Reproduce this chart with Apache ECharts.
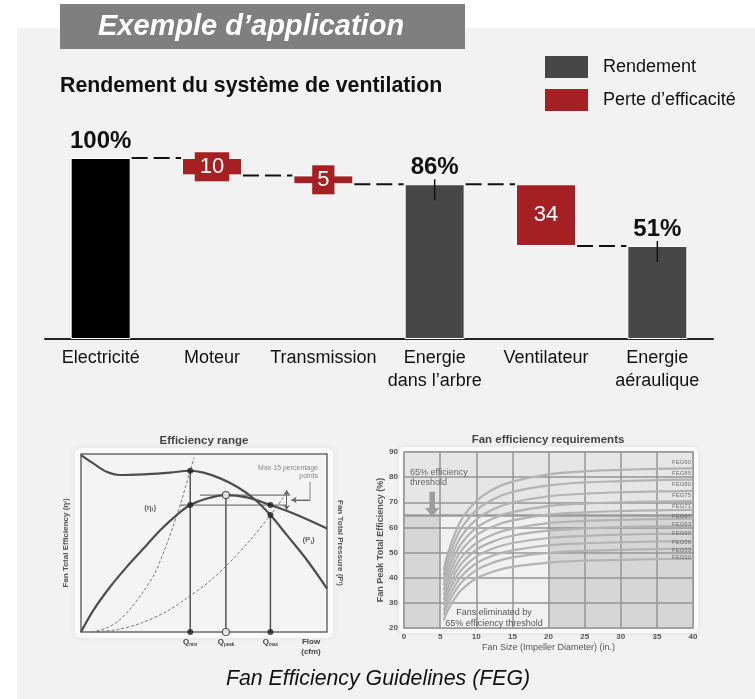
<!DOCTYPE html>
<html>
<head>
<meta charset="utf-8">
<script src="https://cdn.jsdelivr.net/npm/echarts@6/dist/echarts.min.js"></script>
<style>html,body{margin:0;padding:0;background:#fff}#c{width:755px;height:699px}</style>
</head>
<body>
<div id="c"></div>
<script>
const FONT = '"Liberation Sans", Arial, sans-serif';

// ---- Waterfall: Rendement du système de ventilation ----
const categories = ['Electricité', 'Moteur', 'Transmission', 'Energie\ndans l’arbre', 'Ventilateur', 'Energie\naéraulique'];
const rendement = [100, null, null, 85.5, null, 51.4];
const perte = [null, 9.6, 4.9, null, 34.1, null];
const legendNames = ['Rendement', 'Perte d’efficacité'];

// ---- Efficiency range (schematic diagram, 0-100 units) ----
const pressureCurve = [[0,99.4],[5,94.7],[10.4,90],[15.9,88.2],[25.4,88.6],[36.2,89.5],[44.4,90.6],[49.8,89.5],[56.6,86.3],[63.4,81.6],[70.2,75],[77,65.7],[83.7,54.4],[91.9,40.3],[100,24.4]];
const efficiencyCurve = [[0,0],[5,12.2],[11.8,25.3],[18.6,36.6],[25.4,46.9],[32.2,57.2],[38.9,65.7],[44.4,71.3],[51.2,75],[58.9,76.9],[67.4,75.6],[77,71.3],[86.4,66.6],[100,58.2]];
const systemCurveA = [[4.3,0],[10,2],[15,6],[20,13],[25,22],[30,33],[35,50],[40,70],[44.4,90.6],[46,98]];
const systemCurveB = [[4.3,0],[15,1.4],[25,5.3],[35,11.7],[43,19],[52,28.2],[60,38.5],[70,53.6],[77,65.7],[83,77]];
const qPositions = [44.4, 58.9, 77];
const qTops = [90.6, 76.9, 65.7];
const qNames = ['min', 'peak', 'max'];
const flowPosition = 93.5;
const levelLines = [[[40.3,71.3],[83.7,71.3]], [[48.4,76.9],[85,76.9]]];
const filledDots = [[44.4,90.6],[44.4,71.3],[77,71.3],[77,65.7],[44.4,0],[77,0]];
const hollowDots = [[58.9,76.9],[58.9,0]];
const bracket = [[83.6,68.5],[83.6,79.8]];
const pointer = [[93.1,84.4],[93.1,74.2],[85.6,74.2]];

// ---- Fan efficiency requirements ----
const fanSizes = [5.5, 6, 7, 8, 10, 12.5, 15, 20, 25, 30, 35, 40];
const fegNames = ['FEG90','FEG85','FEG80','FEG75','FEG71','FEG67','FEG63','FEG60','FEG56','FEG53','FEG50'];
const fegCurves = [
  [43, 49.1, 57.2, 63.3, 70.5, 75.4, 78.2, 81.1, 82.3, 82.9, 83.3, 83.5],
  [41, 46.7, 54.3, 60, 66.8, 71.4, 74.1, 76.7, 77.9, 78.4, 78.8, 79],
  [39, 44.3, 51.4, 56.8, 63.1, 67.4, 69.9, 72.4, 73.4, 74, 74.3, 74.5],
  [37, 42, 48.7, 53.8, 59.8, 63.8, 66.1, 68.5, 69.5, 70, 70.3, 70.5],
  [35, 39.8, 46.2, 51, 56.8, 60.6, 62.8, 65.1, 66, 66.5, 66.8, 67],
  [33, 37.6, 43.7, 48.3, 53.7, 57.4, 59.5, 61.7, 62.6, 63, 63.3, 63.5],
  [31, 35.4, 41.3, 45.8, 51.1, 54.6, 56.7, 58.7, 59.6, 60.1, 60.4, 60.5],
  [29, 33.3, 39, 43.3, 48.4, 51.8, 53.8, 55.8, 56.6, 57.1, 57.4, 57.5],
  [27, 31.1, 36.6, 40.8, 45.7, 49, 50.9, 52.9, 53.7, 54.1, 54.4, 54.5],
  [25, 29, 34.3, 38.3, 43, 46.2, 48.1, 49.9, 50.7, 51.1, 51.4, 51.5],
  [23, 26.7, 31.6, 35.3, 39.7, 42.6, 44.3, 46, 46.8, 47.1, 47.4, 47.5]
];
const fegLabelLevels = [85.9, 81.4, 77, 72.6, 68.4, 64.4, 61.4, 57.8, 54.2, 51, 48.3];
const thresholdValue = 65;
const thresholdArrowAt = [3.9, 69.2];

// ---------- derived ----------
const BAR_W = 60;
const helper = [], levels = [];
let running = 0;
categories.forEach((c, i) => {
  if (rendement[i] != null) { running = rendement[i]; helper.push('-'); }
  else { running -= perte[i]; helper.push(+running.toFixed(2)); }
  levels.push(running);
});
const connectorData = levels.slice(0, -1).map((v, i) => [i, v]);
const tickData = rendement.map((v, i) => (v != null && i > 0) ? [i, v] : null).filter(Boolean);

const RED = '#a52023', DARK = '#474747';

const series = [];
// Waterfall
series.push({
  type: 'bar', stack: 'wf', silent: true, barWidth: BAR_W,
  itemStyle: { color: 'transparent' }, data: helper
});
series.push({
  name: legendNames[0], type: 'bar', stack: 'wf', barWidth: BAR_W,
  itemStyle: { color: DARK, borderColor: '#fff', borderWidth: 1 },
  data: rendement.map((v, i) => v == null ? '-' : (i === 0 ? { value: v, itemStyle: { color: '#000' } } : v)),
  label: { show: true, position: 'top', distance: 5, formatter: p => Math.round(p.value) + '%',
    fontSize: 24, fontWeight: 'bold', color: '#111', fontFamily: FONT }
});
series.push({
  name: legendNames[1], type: 'bar', stack: 'wf', barWidth: BAR_W,
  itemStyle: { color: RED, borderColor: '#fff', borderWidth: 1 },
  data: perte.map(v => v == null ? '-' : v),
  label: { show: true, position: 'inside', formatter: p => String(Math.round(p.value)),
    fontSize: 22, color: '#fff', backgroundColor: RED, padding: [4, 5, 3, 5], fontFamily: FONT }
});
series.push({
  type: 'custom', silent: true, z: 5, data: connectorData, encode: { x: 0, y: 1 },
  renderItem: (params, api) => {
    const i = api.value(0), v = api.value(1);
    const p1 = api.coord([i, v]), p2 = api.coord([i + 1, v]);
    return { type: 'line', shape: { x1: p1[0] + BAR_W / 2 + 1, y1: p1[1], x2: p2[0] - BAR_W / 2 - 1, y2: p2[1] },
      style: { stroke: '#111', lineWidth: 2, lineDash: [16, 6] } };
  }
});
series.push({
  type: 'custom', silent: true, z: 5, data: tickData, encode: { x: 0, y: 1 },
  renderItem: (params, api) => {
    const p = api.coord([api.value(0), api.value(1)]);
    return { type: 'line', shape: { x1: p[0], y1: p[1] - 5, x2: p[0], y2: p[1] + 16 },
      style: { stroke: '#111', lineWidth: 1.5 } };
  }
});

// Efficiency range diagram
const g1 = { xAxisIndex: 1, yAxisIndex: 1, silent: true };
series.push(Object.assign({ type: 'line', data: pressureCurve, smooth: 0.35, symbol: 'none',
  lineStyle: { color: '#4d4d4d', width: 2.2 }, z: 4 }, g1));
series.push(Object.assign({ type: 'line', data: efficiencyCurve, smooth: 0.35, symbol: 'none',
  lineStyle: { color: '#4d4d4d', width: 2.2 }, z: 4 }, g1));
[systemCurveA, systemCurveB].forEach(d => series.push(Object.assign({ type: 'line', data: d, smooth: 0.3, symbol: 'none',
  lineStyle: { color: '#777', width: 1, type: [3, 2] }, z: 3 }, g1)));
qPositions.forEach((x, i) => series.push(Object.assign({ type: 'line', data: [[x, 0], [x, qTops[i]]], symbol: 'none',
  lineStyle: { color: '#555', width: 1.5 }, z: 3 }, g1)));
levelLines.forEach(d => series.push(Object.assign({ type: 'line', data: d, symbol: 'none',
  lineStyle: { color: '#777', width: 1.2 }, z: 3 }, g1)));
series.push(Object.assign({ type: 'line', data: pointer, symbol: 'none',
  lineStyle: { color: '#888', width: 1 }, z: 3,
  markLine: { silent: true, symbol: ['arrow', 'arrow'], symbolSize: 5, label: { show: false },
    lineStyle: { color: '#666', width: 1, type: 'solid' },
    data: [
      [{ coord: bracket[0] }, { coord: bracket[1] }],
      [{ coord: pointer[1], symbol: 'none' }, { coord: pointer[2], symbol: 'arrow' }]
    ] } }, g1));
series.push(Object.assign({ type: 'scatter', data: filledDots, symbolSize: 6,
  itemStyle: { color: '#222' }, z: 6 }, g1));
series.push(Object.assign({ type: 'scatter', data: hollowDots, symbolSize: 7,
  itemStyle: { color: '#fff', borderColor: '#333', borderWidth: 1.2 }, z: 6 }, g1));
series.push(Object.assign({ type: 'scatter', symbolSize: 0, z: 6,
  label: { show: true, position: 'inside', color: '#444', fontSize: 8, fontWeight: 'bold', fontFamily: FONT,
    rich: { s: { fontSize: 5, fontWeight: 'bold', color: '#444', padding: [4, 0, 0, 0] } } },
  data: [
    { value: [28.1, 70], label: { formatter: '(η{s|t})' } },
    { value: [92.5, 51.6], label: { formatter: '(P{s|t})' } }
  ] }, g1));

// Fan efficiency requirements
const g2 = { xAxisIndex: 2, yAxisIndex: 3, silent: true };
series.push(Object.assign({ type: 'line', data: [], z: 1,
  markArea: { silent: true, itemStyle: { opacity: 1 }, data: [
    [{ xAxis: 0, yAxis: thresholdValue, itemStyle: { color: '#e6e6e6' } }, { xAxis: 40, yAxis: 90 }],
    [{ xAxis: 0, yAxis: 20, itemStyle: { color: '#d6d6d6' } }, { xAxis: 5, yAxis: thresholdValue }],
    [{ xAxis: 5, yAxis: 20, itemStyle: { color: '#f1f1f1' } }, { xAxis: 20, yAxis: thresholdValue }],
    [{ xAxis: 20, yAxis: 20, itemStyle: { color: '#d6d6d6' } }, { xAxis: 40, yAxis: thresholdValue }]
  ] } }, g2));
fegCurves.forEach((vals, k) => series.push(Object.assign({
  type: 'line', name: fegNames[k], smooth: 0.4, symbol: 'none', z: 5,
  lineStyle: { color: '#b3b3b3', width: 2.2 },
  data: vals.map((v, j) => [fanSizes[j], v])
}, g2)));
series.push(Object.assign({
  type: 'scatter', symbolSize: 0, z: 7,
  label: { show: true, position: 'left', distance: 2, formatter: p => p.name,
    fontSize: 6, color: '#555', fontFamily: FONT },
  data: fegNames.map((n, k) => ({ name: n, value: [fanSizes[fanSizes.length - 1], fegLabelLevels[k]] }))
}, g2));
series.push(Object.assign({ type: 'line', data: [], z: 4,
  markLine: { silent: true, symbol: 'none', label: { show: false },
    lineStyle: { color: '#9a9a9a', width: 2.5, type: 'solid' }, data: [{ yAxis: thresholdValue }] },
  markPoint: { silent: true, data: [{ coord: thresholdArrowAt }],
    symbol: 'path://M3,0 L7,0 L7,11 L10,11 L5,17 L0,11 L3,11 Z', symbolSize: [14, 25],
    itemStyle: { color: '#9c9c9c' }, label: { show: false } } }, g2));

const option = {
  animation: false,
  backgroundColor: '#ffffff',
  textStyle: { fontFamily: FONT },
  legend: {
    left: 545, top: 56, orient: 'vertical', itemWidth: 43, itemHeight: 22, itemGap: 11,
    icon: 'rect', selectedMode: false, padding: 0,
    itemStyle: { borderWidth: 0 },
    textStyle: { fontSize: 18, color: '#111', fontFamily: FONT, padding: [0, 0, 0, 10] },
    data: [{ name: legendNames[0], itemStyle: { color: DARK } }, { name: legendNames[1], itemStyle: { color: RED } }]
  },
  grid: [
    { left: 45, right: 42, top: 158, bottom: 360 },
    { left: 81, top: 454, width: 246, height: 178, show: true, borderColor: '#6a6a6a', borderWidth: 1.5, backgroundColor: '#f4f4f4' },
    { left: 404, top: 452, width: 289, height: 176, show: true, borderColor: '#9a9a9a', borderWidth: 1.5, backgroundColor: '#e4e4e4' }
  ],
  xAxis: [
    { gridIndex: 0, type: 'category', data: categories,
      axisLine: { lineStyle: { color: '#222', width: 2 } }, axisTick: { show: false },
      axisLabel: { interval: 0, fontSize: 18, color: '#111', lineHeight: 23, margin: 8, fontFamily: FONT } },
    { gridIndex: 1, type: 'value', min: 0, max: 100,
      axisLine: { show: false }, axisTick: { show: false }, splitLine: { show: false },
      axisLabel: { customValues: qPositions.concat([flowPosition]), margin: 5, color: '#444',
        fontSize: 8, fontWeight: 'bold', fontFamily: FONT, lineHeight: 10,
        formatter: v => { const i = qPositions.indexOf(v); return i >= 0 ? 'Q{s|' + qNames[i] + '}' : 'Flow\n(cfm)'; },
        rich: { s: { fontSize: 4.5, fontWeight: 'bold', color: '#444', padding: [5, 0, 0, 0] } } } },
    { gridIndex: 2, type: 'value', min: 0, max: 40, interval: 5, z: 3,
      axisLine: { show: false }, axisTick: { show: false },
      splitLine: { show: true, lineStyle: { color: '#959595', width: 1.5 } },
      axisLabel: { fontSize: 8, fontWeight: 'bold', color: '#555', margin: 5, fontFamily: FONT },
      name: 'Fan Size (Impeller Diameter) (in.)', nameLocation: 'middle', nameGap: 15,
      nameTextStyle: { fontSize: 9, color: '#555', fontFamily: FONT } }
  ],
  yAxis: [
    { gridIndex: 0, type: 'value', min: 0, max: 100, show: false },
    { gridIndex: 1, type: 'value', min: 0, max: 100,
      axisLine: { show: false }, axisTick: { show: false }, axisLabel: { show: false }, splitLine: { show: false },
      name: 'Fan Total Efficiency (η{s|t})', nameLocation: 'middle', nameGap: 11,
      nameTextStyle: { fontSize: 8, color: '#555', fontWeight: 'bold', fontFamily: FONT,
        rich: { s: { fontSize: 5, color: '#555', fontWeight: 'bold' } } } },
    { gridIndex: 1, type: 'value', min: 0, max: 100, position: 'right',
      axisLine: { show: false }, axisTick: { show: false }, axisLabel: { show: false }, splitLine: { show: false },
      name: 'Fan Total Pressure (P{s|t})', nameLocation: 'middle', nameGap: 9, nameRotate: -90,
      nameTextStyle: { fontSize: 8, color: '#555', fontWeight: 'bold', fontFamily: FONT,
        rich: { s: { fontSize: 5, color: '#555', fontWeight: 'bold' } } } },
    { gridIndex: 2, type: 'value', min: 20, max: 90, interval: 10, z: 3,
      axisLine: { show: false }, axisTick: { show: false },
      splitLine: { show: true, lineStyle: { color: '#959595', width: 1.5 } },
      axisLabel: { fontSize: 8, fontWeight: 'bold', color: '#555', margin: 6, fontFamily: FONT },
      name: 'Fan Peak Total Efficiency (%)', nameLocation: 'middle', nameGap: 15,
      nameTextStyle: { fontSize: 9, color: '#555', fontWeight: 'bold', fontFamily: FONT } }
  ],
  graphic: [
    { type: 'rect', z: -20, shape: { x: 17, y: 28, width: 760, height: 700 }, style: { fill: '#f2f2f2' } },
    { type: 'rect', z: -15, shape: { x: 60, y: 4, width: 405, height: 45 }, style: { fill: '#7f7f7f' } },
    { type: 'text', z: -10, style: { text: 'Exemple d’application', x: 251, y: 27, fill: '#fff',
        font: 'italic bold 29px ' + FONT, align: 'center', verticalAlign: 'middle', textAlign: 'center', textVerticalAlign: 'middle' } },
    { type: 'text', z: -10, style: { text: 'Rendement du système de ventilation', x: 60, y: 86, fill: '#111',
        font: 'bold 21.3px ' + FONT, align: 'left', verticalAlign: 'middle', textAlign: 'left', textVerticalAlign: 'middle' } },
    { type: 'rect', z: -12, shape: { x: 75, y: 448, width: 258, height: 190, r: 6 },
      style: { fill: '#fbfbfb', shadowBlur: 6, shadowColor: 'rgba(0,0,0,0.08)' } },
    { type: 'rect', z: -12, shape: { x: 399, y: 447, width: 299, height: 186, r: 6 },
      style: { fill: '#fbfbfb', shadowBlur: 6, shadowColor: 'rgba(0,0,0,0.08)' } },
    { type: 'text', z: -10, style: { text: 'Efficiency range', x: 204, y: 441, fill: '#444',
        font: 'bold 11.5px ' + FONT, align: 'center', verticalAlign: 'middle', textAlign: 'center', textVerticalAlign: 'middle' } },
    { type: 'text', z: -10, style: { text: 'Fan efficiency requirements', x: 548, y: 440, fill: '#444',
        font: 'bold 11.5px ' + FONT, align: 'center', verticalAlign: 'middle', textAlign: 'center', textVerticalAlign: 'middle' } },
    { type: 'text', z: 50, style: { text: 'Max 15 percentage\npoints', x: 318, y: 472, fill: '#888',
        font: '7px ' + FONT, align: 'right', verticalAlign: 'middle', textAlign: 'right', textVerticalAlign: 'middle', lineHeight: 8 } },
    { type: 'text', z: 50, style: { text: '65% efficiency\nthreshold', x: 410, y: 478, fill: '#666',
        font: '9px ' + FONT, align: 'left', verticalAlign: 'middle', textAlign: 'left', textVerticalAlign: 'middle', lineHeight: 10 } },
    { type: 'text', z: 50, style: { text: 'Fans eliminated by\n65% efficiency threshold', x: 494, y: 618, fill: '#555',
        font: '9px ' + FONT, align: 'center', verticalAlign: 'middle', textAlign: 'center', textVerticalAlign: 'middle', lineHeight: 11 } },
    { type: 'text', z: -10, style: { text: 'Fan Efficiency Guidelines (FEG)', x: 378, y: 679, fill: '#111',
        font: 'italic 21.3px ' + FONT, align: 'center', verticalAlign: 'middle', textAlign: 'center', textVerticalAlign: 'middle' } }
  ],
  series: series
};

const chart = echarts.init(document.getElementById('c'));
chart.setOption(option);
</script>
</body>
</html>
